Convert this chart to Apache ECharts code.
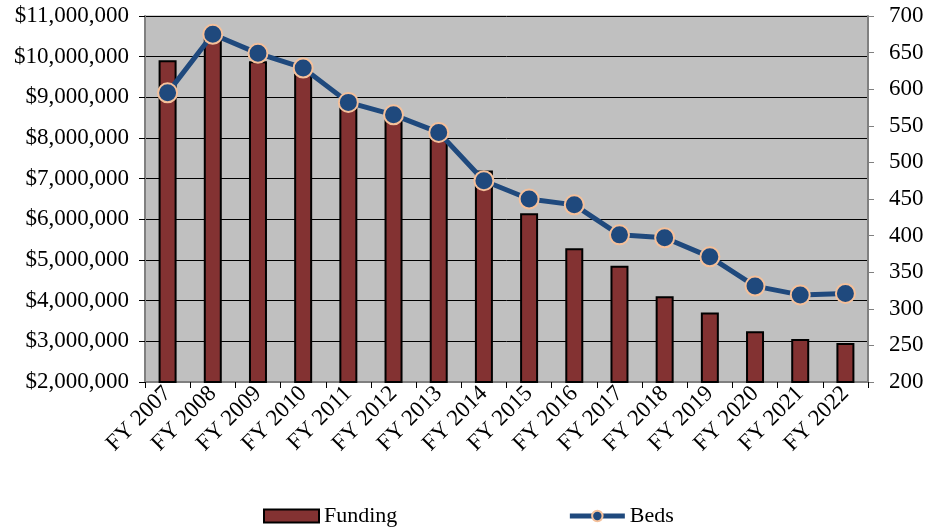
<!DOCTYPE html>
<html>
<head>
<meta charset="utf-8">
<script src="https://cdn.jsdelivr.net/npm/echarts@6/dist/echarts.min.js"></script>
<style>
  html, body { margin: 0; padding: 0; background: #fff; }
  #chart { width: 935px; height: 530px; }
</style>
</head>
<body>
<div id="chart"></div>
<script>
// values
var years = ['FY 2007','FY 2008','FY 2009','FY 2010','FY 2011','FY 2012','FY 2013','FY 2014',
             'FY 2015','FY 2016','FY 2017','FY 2018','FY 2019','FY 2020','FY 2021','FY 2022'];
var funding = [9910000, 10450000, 9890000, 9580000, 8850000, 8500000, 8000000, 7200000,
               6150000, 5290000, 4860000, 4110000, 3710000, 3250000, 3060000, 2960000];
var beds = [595, 675, 649, 629, 582, 565, 541, 475, 450, 442, 401, 397, 371, 331, 319, 321];

var font = 'Times New Roman';
var navy = '#1f497d';
var peach = '#f5c09a';

var chart = echarts.init(document.getElementById('chart'));
chart.setOption({
  animation: false,
  textStyle: { fontFamily: font, color: '#000' },
  grid: {
    left: 145, right: 67, top: 16, bottom: 148,
    show: true, backgroundColor: '#c0c0c0', borderColor: '#a0a0a0', borderWidth: 1
  },
  legend: {
    top: 500, left: 258,
    itemWidth: 55, itemHeight: 13, itemGap: 170,
    textStyle: { fontFamily: font, fontSize: 22, color: '#000' },
    data: [
      { name: 'Funding', icon: 'rect' },
      { name: 'Beds', lineStyle: { width: 5, color: navy } }
    ]
  },
  xAxis: {
    type: 'category',
    data: years,
    axisLine: { lineStyle: { color: '#808080', width: 2 } },
    axisTick: { show: true, length: 6, lineStyle: { color: '#000' } },
    axisLabel: { rotate: 45, fontSize: 23, color: '#000', fontFamily: font, margin: 8 }
  },
  yAxis: [{
    type: 'value', min: 2000000, max: 11000000, interval: 1000000,
    axisLine: { show: true, lineStyle: { color: '#808080', width: 2 } },
    axisTick: { show: true, length: 6, lineStyle: { color: '#000' } },
    splitLine: { lineStyle: { color: '#000', width: 1 } },
    axisLabel: {
      fontSize: 23, color: '#000', fontFamily: font, margin: 16,
      formatter: function (v) { return '$' + v.toLocaleString('en-US'); }
    }
  }, {
    type: 'value', min: 200, max: 700, interval: 50,
    position: 'right',
    axisLine: { show: true, lineStyle: { color: '#808080', width: 2 } },
    axisTick: { show: true, length: 6, lineStyle: { color: '#808080' } },
    splitLine: { show: false },
    axisLabel: { fontSize: 23, color: '#000', fontFamily: font, margin: 21 }
  }],
  series: [{
    name: 'Funding',
    type: 'bar',
    data: funding,
    barWidth: 18,
    itemStyle: { color: '#833232', borderColor: '#000', borderWidth: 2 }
  }, {
    name: 'Beds',
    type: 'line',
    yAxisIndex: 1,
    data: beds,
    symbol: 'circle',
    symbolSize: 19,
    lineStyle: { color: navy, width: 5 },
    itemStyle: { color: navy, borderColor: peach, borderWidth: 2 }
  }]
});
</script>
</body>
</html>
